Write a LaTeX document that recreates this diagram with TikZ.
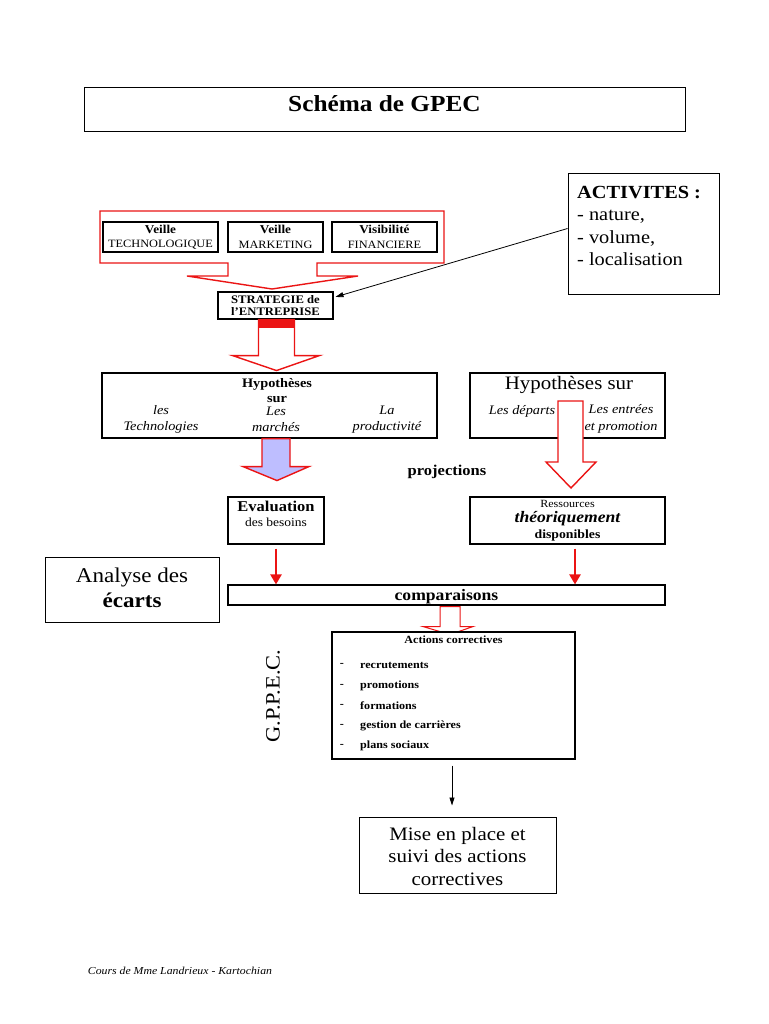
\documentclass[tikz,border=0pt]{standalone}
\usepackage{fontspec}
\setmainfont[FakeStretch=1.1]{Liberation Serif}
\usetikzlibrary{arrows.meta,calc}
\definecolor{arrred}{RGB}{235,20,20}
\definecolor{lblue}{RGB}{190,190,255}
\tikzset{
  box/.style={draw=black,line width=1.1pt,fill=white,inner sep=0pt},
  txt/.style={inner sep=0pt,align=center},
  redblock/.style={draw=arrred,line width=1.4pt,line join=miter},
  redline/.style={draw=arrred,line width=2.2pt,-{Triangle[length=10pt,width=11pt]}},
  blkline/.style={draw=black,line width=0.8pt,-{Triangle[length=8pt,width=5pt]}},
}
\newcommand{\fs}[2]{\fontsize{#1}{#2}\selectfont}
\begin{document}
\begin{tikzpicture}[x=1pt,y=-1pt]
\useasboundingbox (0,0) rectangle (768,1024);
\fill[white] (0,0) rectangle (768,1024);

% title
\node[box,line width=0.9pt,minimum width=601pt,minimum height=44pt] (title) at (384.5,109) {};
\node[txt,font=\fs{23}{26}\bfseries] (titletxt) at (384.5,104) {Schéma de GPEC};

% activites
\node[box,line width=0.9pt,minimum width=151pt,minimum height=121pt] (act) at (643.5,233.5) {};
\node[txt,align=left,anchor=north west,font=\fs{18.5}{22.4}] (acttxt) at (577,186) {\textbf{ACTIVITES :}\\- nature,\\- volume,\\- localisation};

% red veille frame with block arrow
\draw[redblock] (100,211) -- (444,211) -- (444,263) -- (317,263) -- (317,276) -- (358,276)
  -- (272,289) -- (187,276) -- (228,276) -- (228,263) -- (100,263) -- cycle;

\node[box,minimum width=115pt,minimum height=30pt] (vt) at (160.5,237) {};
\node[txt,font=\fs{11.2}{14.5}] (vttxt) at (vt) {\textbf{\fs{12}{14.5}Veille}\\TECHNOLOGIQUE};
\node[box,minimum width=95pt,minimum height=30pt] (vm) at (275.5,237) {};
\node[txt,font=\fs{11.2}{14.5}] (vmtxt) at (vm) {\textbf{\fs{12}{14.5}Veille}\\MARKETING};
\node[box,minimum width=105pt,minimum height=30pt] (vf) at (384.5,237) {};
\node[txt,font=\fs{11.2}{14.5}] (vftxt) at (vf) {\textbf{\fs{12}{14.5}Visibilité}\\FINANCIERE};

% strategie
\node[box,minimum width=115pt,minimum height=27pt] (strat) at (275.5,305.5) {};
\node[txt,font=\fs{11.5}{12}\bfseries] (strattxt) at (strat) {STRATEGIE de\\l'ENTREPRISE};

\draw[blkline,shorten >=2pt] ([yshift=5pt]act.west) -- ([yshift=8pt]strat.east);

% red arrow strategie -> hypotheses
\fill[arrred] ($(strat.south)+(-17,0)$) rectangle ($(strat.south)+(19,8)$);
\draw[redblock] ($(strat.south)+(-17,0)$) -- ++(36,0) -- ++(0,36) -- ++(25,0) -- ++(-43,15)
  -- ++(-44,-15) -- ++(26,0) -- cycle;

% hypotheses left
\node[box,minimum width=335pt,minimum height=65pt] (hypl) at (269.5,405.5) {};
\node[txt,font=\fs{13}{15}\bfseries] (hyplt) at (277,390.5) {Hypothèses\\sur};
\node[txt,font=\fs{13}{16.5}\itshape] (hyl1) at (161,419.5) {les\\Technologies};
\node[txt,font=\fs{13}{16.5}\itshape] (hyl2) at (276,419.5) {Les\\marchés};
\node[txt,font=\fs{13}{16.5}\itshape] (hyl3) at (387,419.5) {La\\productivité};

% blue arrow
\draw[redblock,fill=lblue] ($(hypl.south)+(-7.5,0)$) -- ++(28,0) -- ++(0,28) -- ++(19,0) -- ++(-32,14)
  -- ++(-34,-14) -- ++(19,0) -- cycle;

% hypotheses right
\node[box,minimum width=195pt,minimum height=65pt] (hypr) at (567.5,405.5) {};
\node[txt,font=\fs{19}{20}] (hyprt) at (569,385) {Hypothèses sur};
\node[txt,font=\fs{13}{16.5}\itshape] (hyr1) at (522,411) {Les départs};
\node[txt,font=\fs{13}{16.5}\itshape] (hyr2) at (621,419) {Les entrées\\et promotion};

% red outline arrow over it
\draw[redblock,fill=white] (558,401) -- (583,401) -- (583,462) -- (596,462) -- (571,488)
  -- (546,462) -- (558,462) -- cycle;

\node[txt,font=\fs{15}{17}\bfseries] (proj) at (447,472) {projections};

% evaluation
\node[box,minimum width=96pt,minimum height=47pt] (eval) at (276,520.5) {};
\node[txt,font=\fs{15}{17}\bfseries] (evalt1) at (276,506) {Evaluation};
\node[txt,font=\fs{12.3}{14}] (evalt2) at (276,522.5) {des besoins};

% ressources
\node[box,minimum width=195pt,minimum height=47pt] (res) at (567.5,520.5) {};
\node[txt,font=\fs{11}{12}] (rest1) at (567.5,503.5) {Ressources};
\node[txt,font=\fs{16}{17}\bfseries\itshape] (rest2) at (567.5,518.5) {théoriquement};
\node[txt,font=\fs{12.5}{14}\bfseries] (rest3) at (567.5,535.5) {disponibles};

% comparaisons
\node[box,minimum width=437pt,minimum height=20pt] (comp) at (446.5,595) {};
\node[txt,font=\fs{16}{17}\bfseries] (compt) at (446.5,597) {comparaisons};

\draw[redline,shorten <=4pt] (eval.south) -- (eval.south |- comp.north);
\draw[redline,shorten <=4pt] ([xshift=7.5pt]res.south) -- ([xshift=7.5pt]res.south |- comp.north);

% analyse des ecarts
\node[box,line width=0.9pt,minimum width=174pt,minimum height=65pt] (ana) at (132,589.5) {};
\node[txt,font=\fs{21}{25}] (anat) at (132,588) {Analyse des\\\textbf{écarts}};

% small red arrow
\draw[redblock,line width=1pt,fill=white] ($(comp.south)+(-6.5,1)$) -- ++(20,0) -- ++(0,20) -- ++(13,0)
  -- ++(-23,8) -- ++(-27,-8) -- ++(17,0) -- cycle;

% actions correctives
\node[box,minimum width=243pt,minimum height=127pt] (acts) at (453.5,695.5) {};
\node[txt,font=\fs{11}{12}\bfseries] (actst) at (453.5,640) {Actions correctives};
\foreach \y/\t [count=\i] in {665/recrutements,686/promotions,706/formations,726/gestion de carrières,746/plans sociaux}{
  \node[txt,font=\fs{11}{12}\bfseries] (dash\i) at (342,\y) {-};
  \node[txt,anchor=west,font=\fs{11}{12}\bfseries] (item\i) at (360,\y) {\t};
}

\node[txt,rotate=90,font=\fs{20.4}{22}] (gppec) at (273,696) {G.P.P.E.C.};

% mise en place
\node[box,line width=0.9pt,minimum width=197pt,minimum height=76pt] (mise) at (457.5,855) {};
\node[txt,font=\fs{19}{22.5}] (miset) at (457.5,856) {Mise en place et\\suivi des actions\\correctives};

\draw[blkline,shorten <=6pt,shorten >=11pt] ([xshift=-1.5pt]acts.south) -- ([xshift=-1.5pt]acts.south |- mise.north);

% footer
\node[txt,font=\fs{10.7}{12}\itshape] (foot) at (180,971) {Cours de Mme Landrieux - Kartochian};
\end{tikzpicture}
\end{document}
